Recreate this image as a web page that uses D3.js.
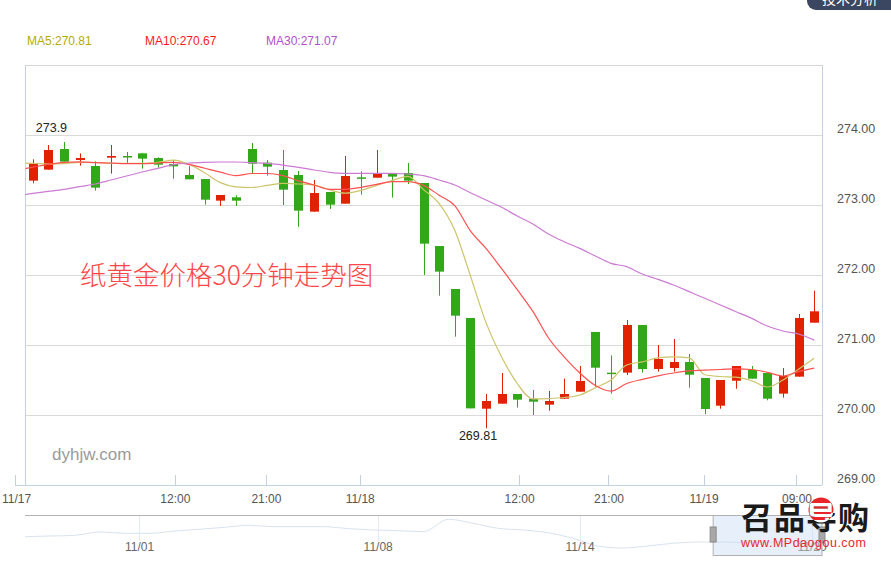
<!DOCTYPE html>
<html><head><meta charset="utf-8">
<script src="https://cdn.jsdelivr.net/npm/d3@7"></script>
<style>
body{margin:0;background:#fff;}
svg{display:block;font-family:"Liberation Sans",Arial,sans-serif;}
</style>
</head><body>
<svg id="c" width="891" height="572"></svg>
<script>
// ---------- DATA ----------
const opens  = [273.348,273.505,273.8,273.643,273.557,273.676,273.7,273.738,273.671,273.586,273.429,273.371,273.062,273.11,273.8,273.605,273.5,273.429,272.905,273.186,273.019,273.395,273.39,273.448,273.457,273.314,272.414,271.8,271.386,270.09,270.162,270.3,270.229,270.148,270.233,270.333,271.186,270.605,270.605,271.286,270.657,270.671,270.757,270.529,270.133,270.49,270.643,270.6,270.305,270.548,271.319];
const closes = [273.586,273.786,273.619,273.671,273.248,273.7,273.7,273.662,273.576,273.552,273.367,273.076,273.143,273.062,273.59,273.548,273.219,272.919,273.171,273.005,273.414,273.39,273.448,273.405,273.348,272.448,272.048,271.419,270.095,270.2,270.3,270.219,270.19,270.2,270.3,270.486,270.676,270.605,271.286,270.657,270.8,270.757,270.576,270.086,270.5,270.7,270.519,270.233,270.557,271.386,271.481];
const highs  = [273.652,273.857,273.9,273.738,273.624,273.857,273.757,273.738,273.681,273.643,273.557,273.371,273.143,273.138,273.886,273.643,273.786,273.486,273.357,273.186,273.7,273.481,273.786,273.448,273.6,273.314,272.414,271.8,271.386,270.3,270.6,270.3,270.357,270.343,270.519,270.7,271.186,270.852,271.357,271.286,271.0,271.086,270.871,270.529,270.5,270.7,270.7,270.6,270.671,271.443,271.776];
const lows   = [273.31,273.505,273.619,273.562,273.205,273.448,273.595,273.519,273.533,273.376,273.367,273.005,272.986,272.986,273.452,273.419,273.0,272.69,272.905,272.943,273.019,273.148,273.39,273.105,273.3,272.0,271.705,271.119,270.095,269.81,270.162,270.105,270.0,270.062,270.233,270.333,270.405,270.305,270.571,270.605,270.619,270.619,270.39,270.01,270.09,270.376,270.519,270.21,270.248,270.548,271.319];

// moving averages, first point belongs to the (hidden) candle before the first one
const maStart = -1;
const ma5  = [273.60,273.595,273.585,273.59,273.61,273.61,273.595,273.595,273.595,273.61,273.64,273.58,273.46,273.32,273.26,273.25,273.28,273.31,273.30,273.285,273.215,273.17,273.21,273.28,273.35,273.41,273.22,273.02,272.64,271.99,271.32,270.83,270.45,270.23,270.235,270.25,270.285,270.39,270.5,270.714,270.76,270.815,270.83,270.815,270.575,270.55,270.54,270.49,270.4,270.5,270.655,270.81];
const ma10 = [273.50,273.54,273.58,273.61,273.615,273.605,273.6,273.59,273.59,273.6,273.61,273.58,273.525,273.47,273.42,273.45,273.45,273.42,273.345,273.286,273.224,273.224,273.252,273.295,273.333,273.333,273.28,273.14,272.99,272.63,272.38,272.09,271.79,271.48,271.10,270.83,270.6,270.42,270.34,270.45,270.51,270.56,270.6,270.63,270.64,270.65,270.66,270.65,270.61,270.557,270.62,270.67];
const ma30 = [273.13,273.167,273.195,273.224,273.262,273.30,273.357,273.414,273.471,273.524,273.576,273.60,273.61,273.614,273.614,273.605,273.595,273.571,273.538,273.50,273.467,273.452,273.452,273.452,273.452,273.443,273.419,273.357,273.286,273.176,273.071,272.967,272.843,272.729,272.586,272.476,272.381,272.271,272.167,272.119,272.014,271.938,271.857,271.762,271.667,271.571,271.476,271.381,271.271,271.20,271.157,271.07];

const yTicks = [269,270,271,272,273,274];
const xTickLabels = ["11/17","12:00","21:00","11/18","12:00","21:00","11/19","09:00"];
const xTickPos    = [-1.12, 9.12, 14.95, 20.95, 31.15, 36.87, 42.95, 48.9];

// navigator (overview) series
const navValues = [271.48,271.58,271.68,272.16,271.97,271.97,272.30,272.55,272.84,273.13,272.93,272.93,272.93,272.64,272.45,272.35,272.21,274.0,273.42,272.69,272.45,272.06,271.24,270.13,269.84,270.13,270.52,270.71,270.71,270.61,270.71,270.81,271.0];
const navTickLabels = ["11/01","11/08","11/14","11/20"];
const navTickPos    = [4.6, 14.18, 22.29, 31.6];
const navWindow     = [27.63, 32];

// ---------- CHART ----------
const svg = d3.select('#c');
const P = {l:25, r:822, t:65, b:485};
const x = d3.scaleLinear().domain([-0.5, opens.length-0.5]).range([P.l, P.r]);
const y = d3.scaleLinear().domain([269, 275]).range([P.b, P.t]);
const RED = "#e02200", GREEN = "#30a818";

// top-right button (cut off)
svg.append("rect").attr("x",807).attr("y",-22).attr("width",100).attr("height",32).attr("rx",9).attr("fill","#3b4760");
svg.append("text").attr("x",822).attr("y",4).attr("fill","#fff").attr("font-size",14)
  .attr("font-family","'Noto Sans CJK SC',sans-serif").text("技术分析");

// legend
const legend = [["MA5", ma5, "#b5ab00", 27], ["MA10", ma10, "#ff1a1a", 145], ["MA30", ma30, "#b14fcf", 266]];
legend.forEach(([n, arr, col, lx]) => {
  svg.append("text").attr("x", lx).attr("y", 45).attr("font-size", 12).attr("fill", col)
    .text(`${n}:${arr[arr.length-1].toFixed(2)}`);
});

// gridlines
svg.append("g").selectAll("line").data(yTicks.filter(v => v > 269)).join("line")
  .attr("x1", P.l).attr("x2", P.r).attr("y1", d => y(d)).attr("y2", d => y(d))
  .attr("stroke", "#dadada").attr("stroke-width", 1).attr("shape-rendering","crispEdges");

// frame
svg.append("line").attr("x1",P.l).attr("x2",P.r).attr("y1",P.t).attr("y2",P.t).attr("stroke","#d6d6d6").attr("shape-rendering","crispEdges");
svg.append("line").attr("x1",P.l).attr("x2",P.l).attr("y1",P.t).attr("y2",P.b).attr("stroke","#c3d1e3").attr("shape-rendering","crispEdges");
svg.append("line").attr("x1",P.r).attr("x2",P.r).attr("y1",P.t).attr("y2",P.b).attr("stroke","#c3d1e3").attr("shape-rendering","crispEdges");
svg.append("line").attr("x1",15).attr("x2",P.r).attr("y1",P.b).attr("y2",P.b).attr("stroke","#c3d1e3").attr("shape-rendering","crispEdges");

// y labels
svg.append("g").selectAll("text").data(yTicks).join("text")
  .attr("x", 837).attr("y", d => y(d) - 2).attr("font-size", 12.5).attr("fill", "#555")
  .text(d => d.toFixed(2));

// x ticks + labels
svg.append("g").selectAll("line").data(xTickPos).join("line")
  .attr("x1", d => x(d)).attr("x2", d => x(d)).attr("y1", P.b - 10).attr("y2", P.b)
  .attr("stroke", "#c3d1e3").attr("shape-rendering","crispEdges");
const xl = svg.append("g").selectAll("text").data(xTickLabels).join("text")
  .attr("y", 503).attr("font-size", 12).attr("fill", "#555").attr("text-anchor","middle")
  .text(d => d);
xl.each(function(d, i){
  const w = this.getComputedTextLength();
  this.setAttribute("x", Math.max(x(xTickPos[i]), w/2 + 2));
});

// watermark texts
svg.append("text").attr("x", 80).attr("y", 285).attr("font-size", 26.5)
  .attr("font-family","'Noto Sans CJK SC',sans-serif").attr("font-weight",300)
  .attr("fill", "#ff4545").text("纸黄金价格30分钟走势图");
svg.append("text").attr("x", 52).attr("y", 460).attr("font-size", 17).attr("fill", "#9a9a9a").text("dyhjw.com");

// clip
const defs = svg.append("defs");
defs.append("clipPath").attr("id","pc").append("rect")
  .attr("x",P.l+0.5).attr("y",P.t).attr("width",P.r-P.l-1).attr("height",P.b-P.t);
const plot = svg.append("g").attr("clip-path","url(#pc)");

// candles
const bw = 9;
const idx = d3.range(opens.length);
const col = i => closes[i] > opens[i] ? RED : GREEN;
plot.append("g").selectAll("line").data(idx).join("line")
  .attr("x1", i => Math.round(x(i)) + 0.5).attr("x2", i => Math.round(x(i)) + 0.5)
  .attr("y1", i => y(highs[i])).attr("y2", i => y(lows[i]))
  .attr("stroke", col).attr("stroke-width", 1);
plot.append("g").selectAll("rect").data(idx).join("rect")
  .attr("x", i => Math.round(x(i)) + 0.5 - bw/2)
  .attr("width", bw)
  .attr("y", i => y(Math.max(opens[i], closes[i])))
  .attr("height", i => Math.max(1.5, Math.abs(y(opens[i]) - y(closes[i]))))
  .attr("fill", col);

// MA lines
[[ma5,"#cdc46a"],[ma10,"#ff5050"],[ma30,"#cc7bd2"]].forEach(([arr, c]) => {
  const ln = d3.line().x((d,i) => x(i + maStart)).y(d => y(d)).curve(d3.curveMonotoneX);
  plot.append("path").attr("d", ln(arr)).attr("fill","none").attr("stroke", c).attr("stroke-width", 1.2);
});

// max/min labels
const hi = d3.maxIndex(highs), lo = d3.minIndex(lows);
svg.append("text").attr("x", x(hi) + 3).attr("y", y(highs[hi]) - 10).attr("text-anchor","end")
  .attr("font-size", 12.5).attr("fill", "#222").text(String(highs[hi]));
svg.append("text").attr("x", x(lo) - 8).attr("y", y(lows[lo]) + 12).attr("text-anchor","middle")
  .attr("font-size", 12.5).attr("fill", "#222").text(String(lows[lo]));

// ---------- NAVIGATOR ----------
const nx = d3.scaleLinear().domain([0, navValues.length - 1]).range([P.l, P.r]);
const ny = d3.scaleLinear().domain([266, 276]).range([574.5, 505.5]);
svg.append("g").selectAll("line").data(navTickPos).join("line")
  .attr("x1", d => nx(d)).attr("x2", d => nx(d)).attr("y1", 515).attr("y2", 541)
  .attr("stroke", "#e3eaf3").attr("shape-rendering","crispEdges");
svg.append("path").attr("d", d3.line().x((d,i) => nx(i)).y(d => ny(d)).curve(d3.curveMonotoneX)(navValues))
  .attr("fill","none").attr("stroke","#d8e3ef").attr("stroke-width",1);
svg.append("line").attr("x1",P.l).attr("x2",P.r).attr("y1",515.5).attr("y2",515.5).attr("stroke","#b4b4b4");
svg.append("g").selectAll("text").data(navTickLabels).join("text")
  .attr("x", (d,i) => nx(navTickPos[i])).attr("y", 551).attr("text-anchor","middle")
  .attr("font-size", 12).attr("fill", "#666").text(d => d);
svg.append("rect").attr("x", nx(navWindow[0])).attr("y", 515.5)
  .attr("width", nx(navWindow[1]) - nx(navWindow[0])).attr("height", 40)
  .attr("fill", "rgba(200,220,245,0.45)").attr("stroke", "#b0b0b0");
navWindow.forEach(v => {
  svg.append("rect").attr("x", nx(v) - 3).attr("y", 527).attr("width", 6).attr("height", 15)
    .attr("fill", "#a8a8a8").attr("stroke", "#8a8a8a");
});

// ---------- LOGO WATERMARK ----------
const lg = svg.append("g").attr("font-family","'Noto Sans CJK SC',sans-serif").attr("font-weight",700);
defs.append("clipPath").attr("id","dc").append("circle").attr("cx", 821).attr("cy", 510).attr("r", 12.5);
lg.append("circle").attr("cx", 821).attr("cy", 510).attr("r", 12.5).attr("fill", "#e8262a");
lg.append("text").attr("x", 741).attr("y", 529).attr("font-size", 31).attr("fill", "#1a1a1a")
  .attr("textLength", 64).text("召品");
lg.append("text").attr("x", 806).attr("y", 529).attr("font-size", 31).attr("fill", "#1a1a1a").text("导");
lg.append("text").attr("x", 806).attr("y", 529).attr("font-size", 31).attr("fill", "#fff")
  .attr("clip-path","url(#dc)").text("导");
lg.append("text").attr("x", 838).attr("y", 529).attr("font-size", 31).attr("fill", "#1a1a1a").text("购");
svg.append("text").attr("x", 741).attr("y", 547).attr("font-size", 12.5).attr("fill", "#e8262a")
  .attr("textLength", 125).text("www.MPdaogou.com");
</script>
</body></html>
